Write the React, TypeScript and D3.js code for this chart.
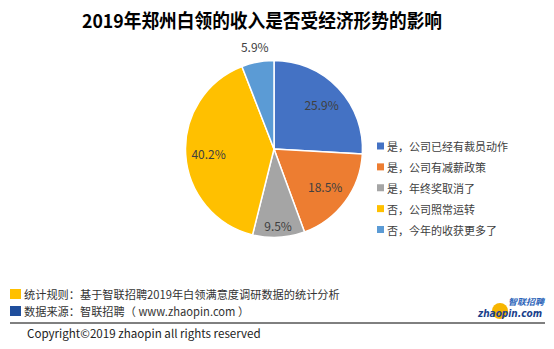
import React from "react";
import * as d3 from "d3";

const categories = ["是，公司已经有裁员动作", "是，公司有减薪政策", "是，年终奖取消了", "否，公司照常运转", "否，今年的收获更多了"];
const values = [25.9, 18.5, 9.5, 40.2, 5.9];
const colors = ["#4472C4", "#ED7D31", "#A5A5A5", "#FFC000", "#5B9BD5"];
const labelRadiusFactor = [0.74, 0.72, 0.86, 0.74, 1.18];

const W = 554, H = 349;
const cx = 274, cy = 149, R = 88.5;
const font = "'Noto Sans CJK SC', 'Microsoft YaHei', sans-serif";

export default function App() {
  const pie = d3.pie<number>().value((d) => d).sort(null);
  const arcs = pie(values);
  const arc = d3.arc<d3.PieArcDatum<number>>().innerRadius(0).outerRadius(R);
  const legendY = d3.scalePoint<number>().domain(d3.range(categories.length)).range([146, 229.5]);

  return (
    <svg width={W} height={H} style={{ position: "absolute", left: 0, top: 0, background: "#fff" }} fontFamily={font}>
      <rect width={W} height={H} fill="#fff" />
      <text x={262} y={28} textAnchor="middle" fontSize={19} fontWeight="bold" fill="#000" textLength={360} lengthAdjust="spacingAndGlyphs">
        2019年郑州白领的收入是否受经济形势的影响
      </text>
      <g transform={`translate(${cx},${cy})`}>
        {arcs.map((a, i) => (
          <path key={i} d={arc(a) || ""} fill={colors[i]} stroke="#fff" strokeWidth={1.5} />
        ))}
        {arcs.map((a, i) => {
          const mid = (a.startAngle + a.endAngle) / 2;
          const r = R * labelRadiusFactor[i];
          return (
            <text key={i} x={Math.sin(mid) * r} y={-Math.cos(mid) * r} textAnchor="middle" dominantBaseline="central" fontSize={12} fill="#404040">
              {values[i].toFixed(1)}%
            </text>
          );
        })}
      </g>
      {categories.map((c, i) => (
        <g key={c} transform={`translate(377,${legendY(i)})`}>
          <rect x={0} y={-3.5} width={7} height={7} fill={colors[i]} />
          <text x={10} y={0} dominantBaseline="central" fontSize={11} fill="#404040">{c}</text>
        </g>
      ))}
      <rect x={10} y={289} width={11} height={10} fill="#FFC000" />
      <text x={24} y={294} dominantBaseline="central" fontSize={11.2} fill="#333">统计规则：基于智联招聘2019年白领满意度调研数据的统计分析</text>
      <rect x={10} y={306} width={11} height={10} fill="#1F4E9C" />
      <text x={24} y={311} dominantBaseline="central" fontSize={11.2} fill="#333">数据来源：智联招聘（ www.zhaopin.com ）</text>
      <line x1={10} x2={545} y1={323} y2={323} stroke="#000" strokeWidth={1} />
      <text x={27} y={333} dominantBaseline="central" fontSize={11.6} fill="#222">Copyright©2019 zhaopin all rights reserved</text>
      <g>
        <circle cx={500} cy={311} r={8} fill="#F7B500" />
        <text x={478} y={317} fontSize={11} fontWeight="bold" fontStyle="italic" fill="#1B3F8B" fontFamily="'DejaVu Sans', sans-serif" textLength={64} lengthAdjust="spacingAndGlyphs">zhaopin.com</text>
        <text x={508} y={305} fontSize={8.5} fontWeight="bold" fontStyle="italic" fill="#2A62B8" textLength={36} lengthAdjust="spacingAndGlyphs">智联招聘</text>
      </g>
    </svg>
  );
}
